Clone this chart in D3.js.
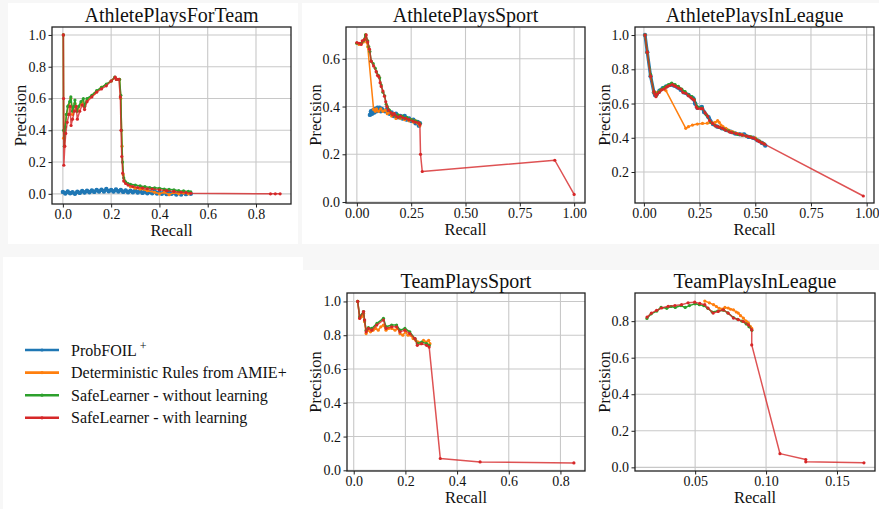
<!DOCTYPE html>
<html>
<head>
<meta charset="utf-8">
<script src="https://cdn.jsdelivr.net/npm/d3@7"></script>
<style>
  body { margin: 0; background: #f7f7f7; }
  svg { display: block; font-family: "Liberation Serif", "Times New Roman", serif; }
</style>
</head>
<body>
<svg id="chart" width="879" height="509"></svg>
<script>
// ---- data: [recall, precision] ----
const seriesNames = ['ProbFOIL', 'Deterministic Rules from AMIE+', 'SafeLearner - without learning', 'SafeLearner - with learning'];
const seriesColors = ['#1f77b4', '#ff7f0e', '#2ca02c', '#d62728'];
const panelTitles = ['AthletePlaysForTeam', 'AthletePlaysSport', 'AthletePlaysInLeague', 'TeamPlaysSport', 'TeamPlaysInLeague'];

// AthletePlaysForTeam
const forTeamBlue = [[0.0,0.012],[0.01,0.002],[0.02,0.015],[0.03,0.004],[0.04,0.01],[0.05,0.0],[0.06,0.014],[0.07,0.006],[0.08,0.018],[0.09,0.008],[0.1,0.02],[0.11,0.01],[0.12,0.022],[0.13,0.012],[0.14,0.024],[0.15,0.014],[0.16,0.026],[0.17,0.015],[0.18,0.03],[0.19,0.016],[0.2,0.025],[0.21,0.014],[0.22,0.028],[0.23,0.015],[0.24,0.024],[0.25,0.012],[0.26,0.022],[0.27,0.01],[0.28,0.02],[0.29,0.01],[0.3,0.022],[0.31,0.008],[0.32,0.018],[0.33,0.006],[0.34,0.016],[0.35,0.004],[0.36,0.014],[0.37,0.004],[0.38,0.016],[0.39,0.002],[0.4,0.012],[0.41,0.0],[0.42,0.012],[0.43,-0.002],[0.44,0.01],[0.45,0.0],[0.46,0.01],[0.47,-0.004],[0.48,0.008],[0.49,-0.004],[0.5,0.008],[0.51,-0.002],[0.52,0.006],[0.53,0.0]];
const forTeamOrange = [[0.002,1.0],[0.003,0.35],[0.008,0.42],[0.015,0.5],[0.025,0.56],[0.033,0.6],[0.04,0.5],[0.05,0.57],[0.06,0.52],[0.08,0.58],[0.09,0.55],[0.1,0.59],[0.13,0.63],[0.16,0.67],[0.2,0.71],[0.215,0.73],[0.225,0.72],[0.235,0.72],[0.24,0.6],[0.245,0.3],[0.25,0.12],[0.26,0.07],[0.28,0.045],[0.3,0.035],[0.32,0.03],[0.35,0.02],[0.38,0.01],[0.4,0.0],[0.42,0.01],[0.44,-0.005],[0.46,0.008],[0.48,0.0],[0.5,0.005],[0.52,0.0]];
const forTeamGreen = [[0.002,1.0],[0.003,0.4],[0.006,0.3],[0.01,0.42],[0.015,0.5],[0.02,0.55],[0.028,0.58],[0.033,0.61],[0.04,0.52],[0.045,0.55],[0.05,0.59],[0.058,0.52],[0.065,0.55],[0.075,0.58],[0.085,0.6],[0.09,0.55],[0.1,0.6],[0.12,0.62],[0.14,0.65],[0.16,0.67],[0.18,0.69],[0.2,0.71],[0.215,0.735],[0.222,0.72],[0.235,0.72],[0.24,0.62],[0.243,0.4],[0.247,0.2],[0.252,0.1],[0.26,0.075],[0.27,0.065],[0.28,0.06],[0.3,0.055],[0.32,0.05],[0.34,0.045],[0.36,0.04],[0.38,0.038],[0.4,0.035],[0.42,0.03],[0.44,0.028],[0.46,0.025],[0.48,0.02],[0.5,0.018],[0.52,0.015],[0.53,0.012]];
const forTeamRed = [[0.002,1.0],[0.003,0.6],[0.004,0.18],[0.008,0.3],[0.012,0.38],[0.018,0.45],[0.025,0.5],[0.03,0.55],[0.034,0.43],[0.04,0.47],[0.048,0.52],[0.055,0.55],[0.06,0.47],[0.07,0.52],[0.08,0.56],[0.09,0.53],[0.1,0.58],[0.12,0.61],[0.14,0.64],[0.16,0.66],[0.18,0.68],[0.2,0.71],[0.217,0.734],[0.222,0.72],[0.232,0.72],[0.238,0.61],[0.241,0.4],[0.244,0.235],[0.248,0.13],[0.252,0.08],[0.26,0.065],[0.27,0.055],[0.29,0.046],[0.31,0.04],[0.33,0.036],[0.35,0.032],[0.37,0.03],[0.4,0.025],[0.43,0.02],[0.46,0.015],[0.49,0.01],[0.51,0.008],[0.53,0.003],[0.86,0.0],[0.88,0.0],[0.9,0.0]];

// AthletePlaysSport
const sportBlue = [[0.06,0.365],[0.065,0.38],[0.07,0.37],[0.075,0.385],[0.08,0.375],[0.085,0.39],[0.09,0.38],[0.095,0.395],[0.1,0.385],[0.105,0.395],[0.11,0.38],[0.115,0.39],[0.12,0.385],[0.13,0.38],[0.14,0.39],[0.15,0.37],[0.16,0.375],[0.17,0.36],[0.18,0.37],[0.19,0.355],[0.2,0.36],[0.21,0.35],[0.22,0.36],[0.23,0.345],[0.24,0.35],[0.25,0.34],[0.26,0.345],[0.27,0.33],[0.28,0.335],[0.285,0.32],[0.29,0.33]];
const sportOrange = [[0.0,0.665],[0.01,0.66],[0.02,0.665],[0.03,0.67],[0.04,0.7],[0.045,0.67],[0.05,0.65],[0.077,0.388],[0.085,0.38],[0.09,0.39],[0.1,0.38],[0.11,0.39],[0.12,0.38],[0.13,0.385],[0.14,0.37],[0.15,0.375],[0.16,0.36],[0.17,0.37],[0.18,0.35],[0.19,0.36],[0.2,0.35],[0.21,0.355],[0.22,0.345],[0.23,0.35],[0.24,0.34],[0.25,0.345],[0.26,0.335],[0.27,0.34],[0.28,0.33],[0.29,0.32]];
const sportGreen = [[0.0,0.665],[0.02,0.665],[0.03,0.675],[0.04,0.7],[0.05,0.675],[0.055,0.65],[0.06,0.63],[0.066,0.59],[0.075,0.58],[0.085,0.56],[0.09,0.545],[0.1,0.53],[0.105,0.52],[0.112,0.49],[0.12,0.46],[0.128,0.445],[0.135,0.41],[0.14,0.4],[0.15,0.385],[0.16,0.37],[0.17,0.365],[0.18,0.36],[0.19,0.365],[0.2,0.355],[0.21,0.36],[0.22,0.35],[0.23,0.355],[0.24,0.345],[0.25,0.345],[0.26,0.34],[0.27,0.34],[0.28,0.335],[0.29,0.33]];
const sportRed = [[0.0,0.668],[0.01,0.665],[0.02,0.66],[0.025,0.675],[0.035,0.68],[0.043,0.70],[0.05,0.67],[0.058,0.64],[0.066,0.59],[0.077,0.57],[0.089,0.546],[0.095,0.53],[0.101,0.525],[0.107,0.5],[0.112,0.484],[0.12,0.465],[0.127,0.443],[0.133,0.42],[0.138,0.4],[0.145,0.385],[0.158,0.373],[0.165,0.365],[0.172,0.37],[0.181,0.36],[0.19,0.355],[0.2,0.36],[0.212,0.353],[0.225,0.35],[0.24,0.345],[0.258,0.339],[0.27,0.335],[0.285,0.332],[0.29,0.325],[0.293,0.2],[0.301,0.128],[0.911,0.175],[1.0,0.032]];

// AthletePlaysInLeague
const leagueBlue = [[0.005,1.0],[0.015,0.9],[0.03,0.76],[0.045,0.665],[0.05,0.65],[0.058,0.655],[0.07,0.675],[0.085,0.69],[0.1,0.70],[0.12,0.71],[0.135,0.705],[0.15,0.695],[0.165,0.68],[0.18,0.665],[0.2,0.65],[0.215,0.635],[0.222,0.63],[0.23,0.6],[0.24,0.575],[0.26,0.58],[0.27,0.55],[0.29,0.52],[0.31,0.48],[0.33,0.465],[0.35,0.455],[0.37,0.445],[0.39,0.435],[0.41,0.425],[0.43,0.42],[0.45,0.42],[0.47,0.405],[0.49,0.4],[0.51,0.385],[0.53,0.37],[0.545,0.355]];
const leagueOrange = [[0.005,1.0],[0.015,0.9],[0.03,0.76],[0.045,0.665],[0.05,0.655],[0.06,0.665],[0.075,0.68],[0.085,0.685],[0.099,0.675],[0.188,0.455],[0.2,0.465],[0.218,0.474],[0.24,0.48],[0.263,0.484],[0.285,0.485],[0.308,0.487],[0.32,0.49],[0.331,0.5],[0.338,0.49],[0.346,0.474],[0.355,0.465],[0.368,0.455],[0.38,0.445],[0.4,0.435],[0.42,0.425],[0.44,0.42],[0.46,0.41],[0.48,0.405],[0.5,0.4],[0.52,0.38],[0.54,0.365]];
const leagueGreen = [[0.005,1.0],[0.015,0.9],[0.03,0.77],[0.045,0.67],[0.05,0.66],[0.056,0.645],[0.065,0.665],[0.075,0.68],[0.09,0.695],[0.1,0.7],[0.11,0.71],[0.125,0.72],[0.14,0.71],[0.155,0.7],[0.17,0.685],[0.185,0.67],[0.2,0.65],[0.215,0.64],[0.226,0.625],[0.24,0.58],[0.26,0.575],[0.28,0.535],[0.3,0.49],[0.32,0.47],[0.34,0.46],[0.36,0.45],[0.38,0.44],[0.4,0.43],[0.42,0.42],[0.44,0.415],[0.46,0.41],[0.48,0.405],[0.5,0.395],[0.52,0.38],[0.54,0.365]];
const leagueRed = [[0.005,1.0],[0.015,0.9],[0.03,0.76],[0.045,0.67],[0.049,0.655],[0.054,0.64],[0.06,0.655],[0.069,0.665],[0.08,0.68],[0.091,0.685],[0.1,0.695],[0.106,0.70],[0.115,0.705],[0.128,0.71],[0.135,0.705],[0.143,0.70],[0.155,0.69],[0.166,0.685],[0.175,0.665],[0.188,0.66],[0.2,0.645],[0.211,0.635],[0.22,0.625],[0.226,0.62],[0.235,0.58],[0.241,0.571],[0.255,0.57],[0.263,0.571],[0.275,0.545],[0.286,0.527],[0.295,0.5],[0.308,0.484],[0.32,0.47],[0.331,0.465],[0.34,0.46],[0.353,0.455],[0.365,0.445],[0.383,0.435],[0.395,0.43],[0.413,0.425],[0.43,0.42],[0.443,0.415],[0.46,0.41],[0.473,0.406],[0.485,0.4],[0.496,0.396],[0.508,0.385],[0.518,0.377],[0.53,0.37],[0.541,0.363],[0.985,0.06]];

// TeamPlaysSport (no ProbFOIL curve)
const teamSportOrange = [[0.0155,1.0],[0.023,0.9],[0.03,0.91],[0.038,0.93],[0.042,0.88],[0.048,0.81],[0.055,0.83],[0.065,0.82],[0.075,0.83],[0.085,0.84],[0.095,0.83],[0.105,0.85],[0.115,0.86],[0.125,0.83],[0.135,0.84],[0.147,0.84],[0.16,0.83],[0.17,0.84],[0.179,0.81],[0.19,0.8],[0.2,0.82],[0.21,0.8],[0.22,0.8],[0.23,0.78],[0.24,0.77],[0.25,0.76],[0.26,0.75],[0.27,0.77],[0.28,0.76],[0.29,0.77],[0.295,0.75]];
const teamSportGreen = [[0.0155,1.0],[0.023,0.91],[0.038,0.94],[0.042,0.89],[0.048,0.83],[0.057,0.845],[0.07,0.84],[0.09,0.87],[0.115,0.9],[0.125,0.85],[0.147,0.86],[0.166,0.86],[0.179,0.83],[0.198,0.84],[0.217,0.82],[0.237,0.78],[0.246,0.75],[0.263,0.76],[0.282,0.75],[0.292,0.74]];
const teamSportRed = [[0.0155,1.0],[0.023,0.90],[0.038,0.94],[0.042,0.89],[0.048,0.82],[0.057,0.84],[0.07,0.83],[0.089,0.86],[0.115,0.89],[0.125,0.84],[0.147,0.85],[0.166,0.85],[0.179,0.82],[0.198,0.83],[0.217,0.81],[0.237,0.78],[0.246,0.74],[0.263,0.75],[0.282,0.74],[0.292,0.73],[0.335,0.07],[0.489,0.05],[0.852,0.044]];

// TeamPlaysInLeague (no ProbFOIL curve)
const teamLeagueOrange = [[0.0568,0.91],[0.06,0.9],[0.063,0.89],[0.065,0.88],[0.067,0.87],[0.069,0.866],[0.071,0.875],[0.0733,0.872],[0.075,0.865],[0.077,0.862],[0.079,0.85],[0.0804,0.844],[0.082,0.83],[0.084,0.817],[0.086,0.8],[0.0875,0.79],[0.089,0.77],[0.0899,0.76]];
const teamLeagueGreen = [[0.016,0.815],[0.019,0.84],[0.023,0.855],[0.026,0.875],[0.03,0.87],[0.033,0.88],[0.036,0.875],[0.04,0.885],[0.043,0.875],[0.046,0.885],[0.05,0.895],[0.053,0.89],[0.056,0.885],[0.059,0.87],[0.062,0.85],[0.066,0.855],[0.07,0.86],[0.073,0.845],[0.077,0.82],[0.08,0.81],[0.083,0.8],[0.086,0.785],[0.088,0.77],[0.09,0.75]];
const teamLeagueRed = [[0.0161,0.822],[0.0192,0.844],[0.0228,0.859],[0.0263,0.872],[0.031,0.881],[0.0357,0.885],[0.0404,0.89],[0.045,0.9],[0.0497,0.904],[0.0533,0.897],[0.0568,0.89],[0.059,0.872],[0.0627,0.844],[0.0663,0.853],[0.0698,0.862],[0.0733,0.844],[0.077,0.817],[0.0804,0.808],[0.084,0.798],[0.0875,0.78],[0.0899,0.753],[0.0899,0.67],[0.1098,0.075],[0.128,0.043],[0.128,0.03],[0.169,0.025]];

// tick values
const ticksPct = [0, 0.2, 0.4, 0.6, 0.8, 1.0];
const ticksQuarter = [0, 0.25, 0.5, 0.75, 1.0];
const ticksSmall = [0.05, 0.10, 0.15];

// ---- layout ----
const FONT = '"Liberation Serif", "Times New Roman", serif';
const svg = d3.select('#chart');

// white card backgrounds
const cards = [[8, 3, 290, 241], [302, 3, 577, 241], [3, 257, 300, 252], [303, 270, 576, 239]];
svg.selectAll('.card').data(cards).enter().append('rect')
  .attr('x', d => d[0]).attr('y', d => d[1]).attr('width', d => d[2]).attr('height', d => d[3])
  .attr('fill', '#fff');

const panels = [
  { title: panelTitles[0], box: [52, 27, 291, 204], xd: [-0.045, 0.945], yd: [-0.064, 1.05],
    xt: [0, 0.2, 0.4, 0.6, 0.8], yt: ticksPct, xf: '.1f', yf: '.1f', ylab: 20,
    series: [forTeamBlue, forTeamOrange, forTeamGreen, forTeamRed] },
  { title: panelTitles[1], box: [346, 27, 585, 203], xd: [-0.05, 1.05], yd: [-0.004, 0.733],
    xt: ticksQuarter, yt: [0, 0.2, 0.4, 0.6], xf: '.2f', yf: '.1f', ylab: 315,
    series: [sportBlue, sportOrange, sportGreen, sportRed] },
  { title: panelTitles[2], box: [635, 27, 874, 203], xd: [-0.04, 1.033], yd: [0.019, 1.047],
    xt: ticksQuarter, yt: [0.2, 0.4, 0.6, 0.8, 1.0], xf: '.2f', yf: '.1f', ylab: 604,
    series: [leagueBlue, leagueOrange, leagueGreen, leagueRed] },
  { title: panelTitles[3], box: [347, 293, 585, 471], xd: [-0.026, 0.895], yd: [-0.004, 1.05],
    xt: [0, 0.2, 0.4, 0.6, 0.8], yt: ticksPct, xf: '.1f', yf: '.1f', ylab: 315,
    series: [null, teamSportOrange, teamSportGreen, teamSportRed] },
  { title: panelTitles[4], box: [635, 293, 875, 471], xd: [0.0076, 0.1768], yd: [-0.02, 0.954],
    xt: ticksSmall, yt: [0, 0.2, 0.4, 0.6, 0.8], xf: '.2f', yf: '.1f', ylab: 604,
    series: [null, teamLeagueOrange, teamLeagueGreen, teamLeagueRed] }
];

panels.forEach((p, pi) => {
  const [l, t, r, b] = p.box;
  const x = d3.scaleLinear().domain(p.xd).range([l, r]);
  const y = d3.scaleLinear().domain(p.yd).range([b, t]);
  const g = svg.append('g');
  const clipId = 'clip' + pi;
  g.append('clipPath').attr('id', clipId).append('rect')
    .attr('x', l).attr('y', t).attr('width', r - l).attr('height', b - t);

  // grid
  g.append('g').selectAll('line').data(p.xt).enter().append('line')
    .attr('x1', d => x(d)).attr('x2', d => x(d)).attr('y1', t).attr('y2', b)
    .attr('stroke', '#c8c8c8').attr('stroke-width', 1.1);
  g.append('g').selectAll('line').data(p.yt).enter().append('line')
    .attr('y1', d => y(d)).attr('y2', d => y(d)).attr('x1', l).attr('x2', r)
    .attr('stroke', '#c8c8c8').attr('stroke-width', 1.1);

  // curves
  const line = d3.line().x(d => x(d[0])).y(d => y(d[1]));
  const plot = g.append('g').attr('clip-path', `url(#${clipId})`);
  p.series.forEach((s, si) => {
    if (!s) return;
    const col = seriesColors[si];
    plot.append('path').datum(s).attr('d', line)
      .attr('fill', 'none').attr('stroke', col)
      .attr('stroke-width', si === 0 ? 3.2 : 1.5)
      .attr('stroke-opacity', si === 3 ? 0.8 : 1)
      .attr('stroke-linejoin', 'round');
    plot.append('g').selectAll('circle').data(s).enter().append('circle')
      .attr('cx', d => x(d[0])).attr('cy', d => y(d[1]))
      .attr('r', si === 0 ? 2.2 : 1.6).attr('fill', col);
  });

  // axes
  const xAxis = d3.axisBottom(x).tickValues(p.xt).tickFormat(d3.format(p.xf)).tickSize(3.5).tickPadding(2);
  const yAxis = d3.axisLeft(y).tickValues(p.yt).tickFormat(d3.format(p.yf)).tickSize(3.5).tickPadding(2.5);
  const xa = g.append('g').attr('transform', `translate(0,${b})`).call(xAxis);
  const ya = g.append('g').attr('transform', `translate(${l},0)`).call(yAxis);
  [xa, ya].forEach(a => {
    a.attr('font-family', FONT).attr('font-size', 14);
    a.select('.domain').remove();
    a.selectAll('line').attr('stroke', '#222');
    a.selectAll('text').attr('fill', '#111');
  });

  // frame
  g.append('rect').attr('x', l).attr('y', t).attr('width', r - l).attr('height', b - t)
    .attr('fill', 'none').attr('stroke', '#222').attr('stroke-width', 1.3);

  // labels
  g.append('text').attr('x', (l + r) / 2).attr('y', t - 5).attr('text-anchor', 'middle')
    .attr('font-size', 20).attr('fill', '#111').text(p.title);
  g.append('text').attr('x', (l + r) / 2).attr('y', b + 32).attr('text-anchor', 'middle')
    .attr('font-size', 16.5).attr('fill', '#111').text('Recall');
  g.append('text').attr('transform', `translate(${p.ylab},${(t + b) / 2}) rotate(-90)`)
    .attr('text-anchor', 'middle').attr('dy', '0.35em')
    .attr('font-size', 16.5).attr('fill', '#111').text('Precision');
});

// legend
const legend = svg.append('g').attr('transform', 'translate(25,350)');
seriesNames.forEach((name, i) => {
  const row = legend.append('g').attr('transform', `translate(0,${i * 22.6})`);
  row.append('line').attr('x1', 0).attr('x2', 34).attr('y1', 0).attr('y2', 0)
    .attr('stroke', seriesColors[i]).attr('stroke-width', 2.6);
  row.append('circle').attr('cx', 17).attr('cy', 0).attr('r', 1.6).attr('fill', seriesColors[i]);
  const txt = row.append('text').attr('x', 46).attr('y', 5.5).attr('font-size', 16).attr('fill', '#111').text(name);
  if (i === 0) txt.append('tspan').attr('dy', -6).attr('dx', 3).attr('font-size', 12).text('+');
});
</script>
</body>
</html>
